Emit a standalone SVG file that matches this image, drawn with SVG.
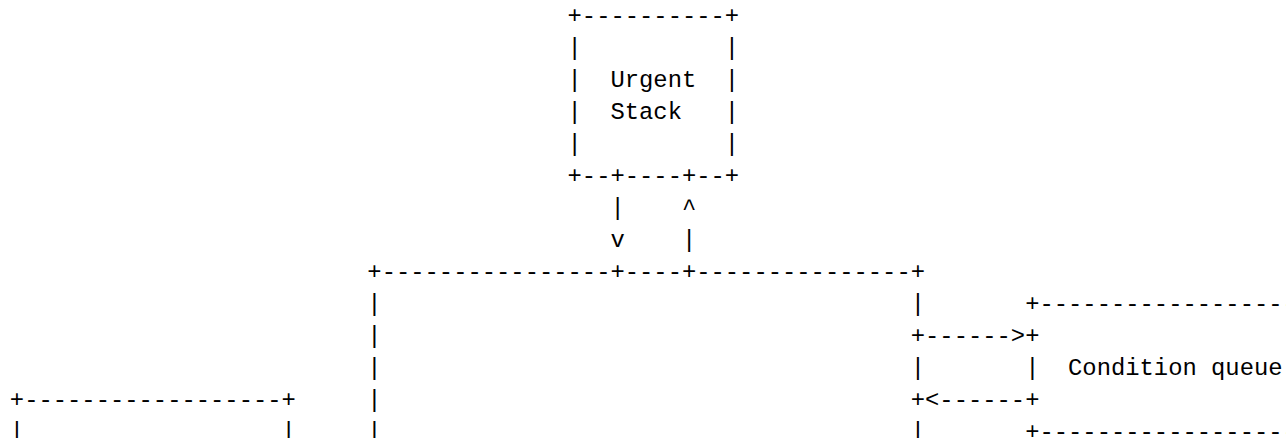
<svg xmlns="http://www.w3.org/2000/svg" width="1286" height="438" viewBox="0 0 1286 438">
<style>
text{font-family:"Liberation Mono","DejaVu Sans Mono",monospace;font-size:23.83px;fill:#000;white-space:pre}
</style>
<rect width="1286" height="438" fill="#fff"/>
<g id="urgent-stack">
<text x="567.55" y="23">+----------+</text>
<text x="567.55" y="55">|</text><text x="724.85" y="55">|</text>
<text x="567.55" y="87">|</text><text x="610.45" y="87">Urgent</text><text x="724.85" y="87">|</text>
<text x="567.55" y="119">|</text><text x="610.45" y="119">Stack</text><text x="724.85" y="119">|</text>
<text x="567.55" y="151">|</text><text x="724.85" y="151">|</text>
<text x="567.55" y="183">+--+----+--+</text>
</g>
<g id="monitor">
<text x="367.35" y="279">+----------------+----+---------------+</text>
<text x="367.35" y="311">|</text><text x="910.75" y="311">|</text>
<text x="367.35" y="343">|</text><text x="910.75" y="343">+</text>
<text x="367.35" y="375">|</text><text x="910.75" y="375">|</text>
<text x="367.35" y="407">|</text><text x="910.75" y="407">+</text>
<text x="367.35" y="439">|</text><text x="910.75" y="439">|</text>
</g>
<g id="condition-queue">
<text x="1025.15" y="311">+-------------------</text>
<text x="1025.15" y="343">+</text>
<text x="1025.15" y="375">|</text><text x="1068.05" y="375">Condition queue</text>
<text x="1025.15" y="407">+</text>
<text x="1025.15" y="439">+-------------------</text>
</g>
<g id="left-box">
<text x="9.85" y="407">+------------------+</text>
<text x="9.85" y="439">|</text><text x="281.55" y="439">|</text>
</g>
<g id="connectors">
<text x="610.45" y="215">|</text><text x="681.95" y="215">^</text>
<text x="610.45" y="247">v</text><text x="681.95" y="247">|</text>
<text x="925.05" y="343">------&gt;</text>
<text x="925.05" y="407">&lt;------</text>
</g>
</svg>
